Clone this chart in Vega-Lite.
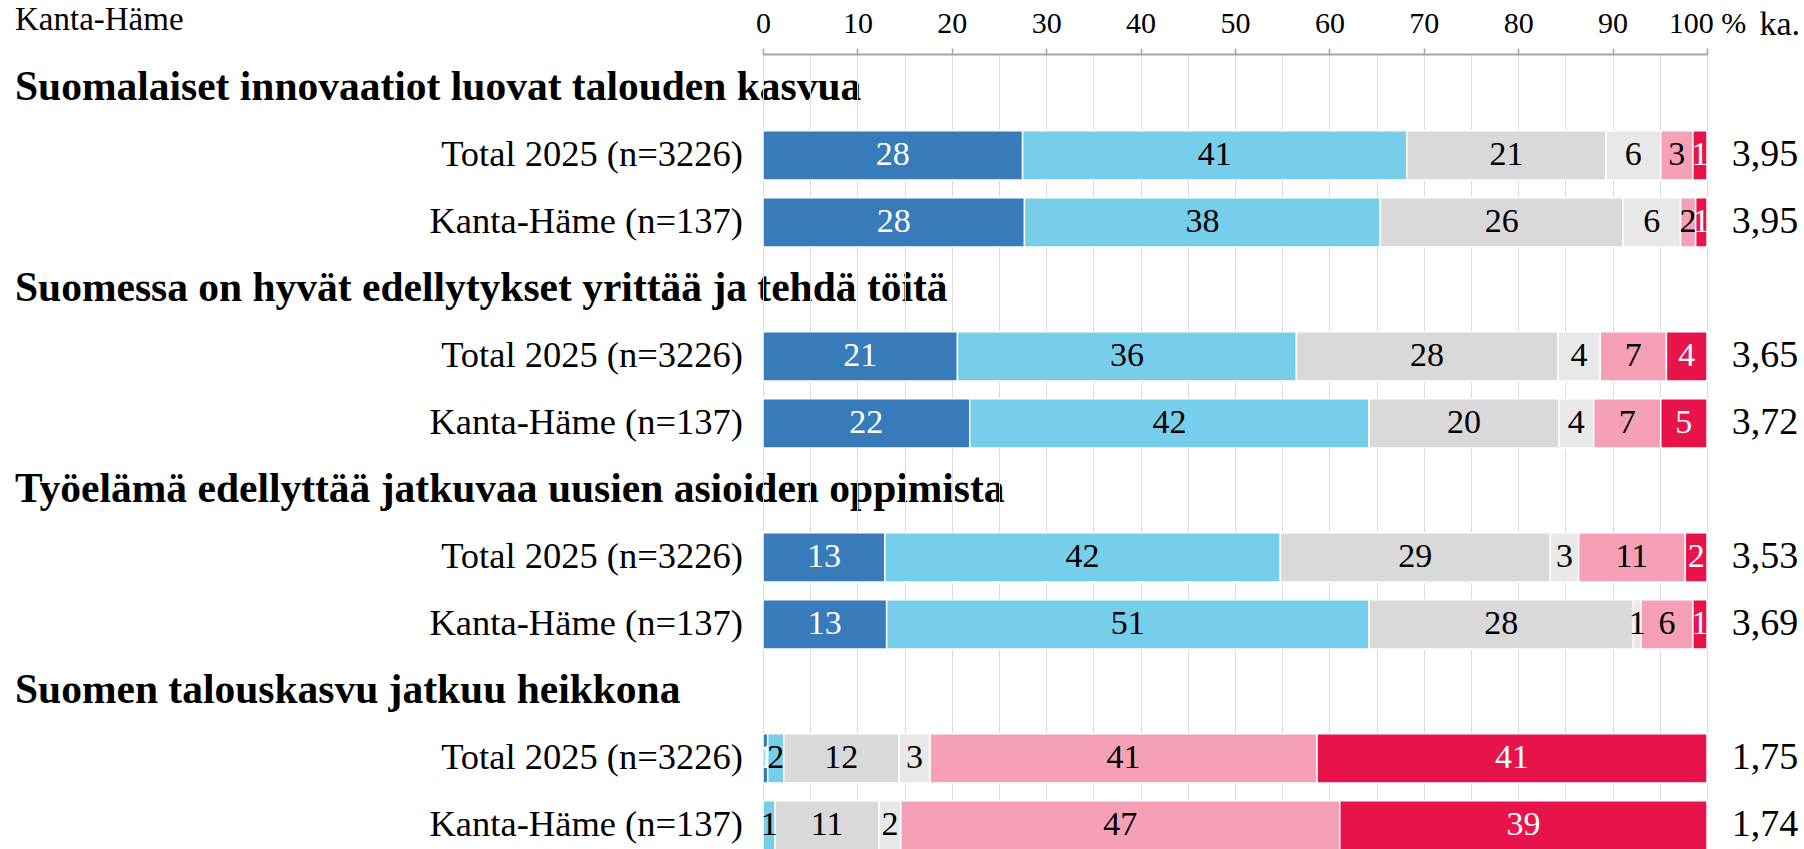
{
  "$schema": "https://vega.github.io/schema/vega-lite/v6.json",
  "padding": {"left": 15, "top": 4, "right": 0, "bottom": 0},
  "autosize": {"type": "pad"},
  "spacing": 20,
  "bounds": "flush",
  "config": {"view": {"stroke": null}, "font": "Liberation Serif", "text": {"font": "Liberation Serif", "color": "black"}},
  "datasets": {
    "rows": [
      {"r": 1, "kind": "h", "label": "Suomalaiset innovaatiot luovat talouden kasvua"},
      {"r": 2, "kind": "r", "label": "Total 2025 (n=3226)", "ka": "3,95"},
      {"r": 3, "kind": "r", "label": "Kanta-Häme (n=137)", "ka": "3,95"},
      {"r": 4, "kind": "h", "label": "Suomessa on hyvät edellytykset yrittää ja tehdä töitä"},
      {"r": 5, "kind": "r", "label": "Total 2025 (n=3226)", "ka": "3,65"},
      {"r": 6, "kind": "r", "label": "Kanta-Häme (n=137)", "ka": "3,72"},
      {"r": 7, "kind": "h", "label": "Työelämä edellyttää jatkuvaa uusien asioiden oppimista"},
      {"r": 8, "kind": "r", "label": "Total 2025 (n=3226)", "ka": "3,53"},
      {"r": 9, "kind": "r", "label": "Kanta-Häme (n=137)", "ka": "3,69"},
      {"r": 10, "kind": "h", "label": "Suomen talouskasvu jatkuu heikkona"},
      {"r": 11, "kind": "r", "label": "Total 2025 (n=3226)", "ka": "1,75"},
      {"r": 12, "kind": "r", "label": "Kanta-Häme (n=137)", "ka": "1,74"}
    ],
    "bars": [
      {"r": 2, "c": 0, "v": 27.5, "t": "28"}, {"r": 2, "c": 1, "v": 40.7, "t": "41"}, {"r": 2, "c": 2, "v": 21.1, "t": "21"}, {"r": 2, "c": 3, "v": 5.8, "t": "6"}, {"r": 2, "c": 4, "v": 3.4, "t": "3"}, {"r": 2, "c": 5, "v": 1.5, "t": "1"},
      {"r": 3, "c": 0, "v": 27.7, "t": "28"}, {"r": 3, "c": 1, "v": 37.7, "t": "38"}, {"r": 3, "c": 2, "v": 25.7, "t": "26"}, {"r": 3, "c": 3, "v": 6.1, "t": "6"}, {"r": 3, "c": 4, "v": 1.6, "t": "2"}, {"r": 3, "c": 5, "v": 1.2, "t": "1"},
      {"r": 5, "c": 0, "v": 20.6, "t": "21"}, {"r": 5, "c": 1, "v": 35.9, "t": "36"}, {"r": 5, "c": 2, "v": 27.7, "t": "28"}, {"r": 5, "c": 3, "v": 4.5, "t": "4"}, {"r": 5, "c": 4, "v": 7.0, "t": "7"}, {"r": 5, "c": 5, "v": 4.3, "t": "4"},
      {"r": 6, "c": 0, "v": 21.9, "t": "22"}, {"r": 6, "c": 1, "v": 42.3, "t": "42"}, {"r": 6, "c": 2, "v": 20.1, "t": "20"}, {"r": 6, "c": 3, "v": 3.7, "t": "4"}, {"r": 6, "c": 4, "v": 7.1, "t": "7"}, {"r": 6, "c": 5, "v": 4.9, "t": "5"},
      {"r": 8, "c": 0, "v": 12.9, "t": "13"}, {"r": 8, "c": 1, "v": 41.9, "t": "42"}, {"r": 8, "c": 2, "v": 28.6, "t": "29"}, {"r": 8, "c": 3, "v": 3.0, "t": "3"}, {"r": 8, "c": 4, "v": 11.3, "t": "11"}, {"r": 8, "c": 5, "v": 2.3, "t": "2"},
      {"r": 9, "c": 0, "v": 13.1, "t": "13"}, {"r": 9, "c": 1, "v": 51.1, "t": "51"}, {"r": 9, "c": 2, "v": 28.0, "t": "28"}, {"r": 9, "c": 3, "v": 0.8, "t": "1"}, {"r": 9, "c": 4, "v": 5.5, "t": "6"}, {"r": 9, "c": 5, "v": 1.5, "t": "1"},
      {"r": 11, "c": 0, "v": 0.5, "t": "1"}, {"r": 11, "c": 1, "v": 1.7, "t": "2"}, {"r": 11, "c": 2, "v": 12.2, "t": "12"}, {"r": 11, "c": 3, "v": 3.3, "t": "3"}, {"r": 11, "c": 4, "v": 41.0, "t": "41"}, {"r": 11, "c": 5, "v": 41.3, "t": "41"},
      {"r": 12, "c": 1, "v": 1.3, "t": "1"}, {"r": 12, "c": 2, "v": 11.0, "t": "11"}, {"r": 12, "c": 3, "v": 2.3, "t": "2"}, {"r": 12, "c": 4, "v": 46.5, "t": "47"}, {"r": 12, "c": 5, "v": 38.9, "t": "39"}
    ]
  },
  "hconcat": [
    {
      "width": 728,
      "height": 796,
      "title": {"text": "Kanta-Häme", "anchor": "start", "fontSize": 33, "fontWeight": "normal", "font": "Liberation Serif", "color": "black", "baseline": "alphabetic", "offset": -9},
      "data": {"name": "rows"},
      "encoding": {
        "y": {"field": "r", "type": "ordinal", "scale": {"type": "band", "domain": [1,2,3,4,5,6,7,8,9,10,11,12], "paddingInner": 0.264, "paddingOuter": 0.073, "align": 1}, "axis": null}
      },
      "layer": [
        {
          "transform": [{"filter": "datum.kind == 'h'"}],
          "mark": {"type": "text", "align": "left", "baseline": "middle", "fontSize": 41.5, "fontWeight": "bold"},
          "encoding": {
            "x": {"datum": 0, "type": "quantitative", "scale": {"domain": [0, 1]}, "axis": null},
            "text": {"field": "label"}
          }
        },
        {
          "transform": [{"filter": "datum.kind == 'r'"}],
          "mark": {"type": "text", "align": "right", "baseline": "middle", "fontSize": 36.5},
          "encoding": {
            "x": {"datum": 1, "type": "quantitative", "scale": {"domain": [0, 1]}, "axis": null},
            "text": {"field": "label"}
          }
        }
      ]
    },
    {
      "width": 944,
      "height": 796,
      "data": {"name": "bars"},
      "transform": [
        {"stack": "v", "groupby": ["r"], "sort": [{"field": "c"}], "as": ["x0", "x1"]},
        {"calculate": "(datum.x0 + datum.x1) / 2", "as": "xm"}
      ],
      "encoding": {
        "y": {"field": "r", "type": "ordinal", "scale": {"type": "band", "domain": [1,2,3,4,5,6,7,8,9,10,11,12], "paddingInner": 0.264, "paddingOuter": 0.073, "align": 1}, "axis": null}
      },
      "layer": [
        {
          "mark": {"type": "bar", "stroke": "white", "strokeWidth": 1.5},
          "encoding": {
            "x": {
              "field": "x0", "type": "quantitative",
              "scale": {"domain": [0, 100], "nice": false, "zero": true},
              "axis": {
                "orient": "top", "title": null,
                "values": [0,5,10,15,20,25,30,35,40,45,50,55,60,65,70,75,80,85,90,95,100],
                "labelExpr": "datum.value % 10 ? '' : (datum.value == 100 ? '100 %' : datum.label)",
                "tickColor": {"condition": {"test": "datum.value % 10 != 0", "value": "transparent"}, "value": "#a6a6a6"},
                "tickSize": 6, "tickWidth": 1.5,
                "domainColor": "#a6a6a6", "domainWidth": 2,
                "grid": true, "gridColor": "#dadada", "gridWidth": 1,
                "labelFontSize": 30, "labelFont": "Liberation Serif", "labelColor": "black",
                "labelPadding": 16, "labelBaseline": "alphabetic", "labelOverlap": false, "labelFlush": false, "labelBound": false
              }
            },
            "x2": {"field": "x1"},
            "color": {
              "field": "c", "type": "nominal",
              "scale": {"domain": [0,1,2,3,4,5], "range": ["#377bba", "#76ceea", "#d9d9d9", "#e8e8e8", "#f5a0b6", "#e9134c"]},
              "legend": null
            }
          }
        },
        {
          "mark": {"type": "text", "baseline": "middle", "fontSize": 34},
          "encoding": {
            "x": {"field": "xm", "type": "quantitative"},
            "text": {"field": "t"},
            "color": {"condition": {"test": "datum.c == 0 || datum.c == 5", "value": "white"}, "value": "black"}
          }
        }
      ]
    },
    {
      "width": 76,
      "height": 796,
      "title": {"text": "ka.", "anchor": "end", "fontSize": 34, "fontWeight": "normal", "font": "Liberation Serif", "color": "black", "baseline": "alphabetic", "offset": -15, "dx": -3},
      "data": {"name": "rows"},
      "transform": [{"filter": "datum.kind == 'r'"}],
      "mark": {"type": "text", "align": "center", "baseline": "middle", "fontSize": 38},
      "encoding": {
        "y": {"field": "r", "type": "ordinal", "scale": {"type": "band", "domain": [1,2,3,4,5,6,7,8,9,10,11,12], "paddingInner": 0.264, "paddingOuter": 0.073, "align": 1}, "axis": null},
        "text": {"field": "ka"}
      }
    }
  ]
}
